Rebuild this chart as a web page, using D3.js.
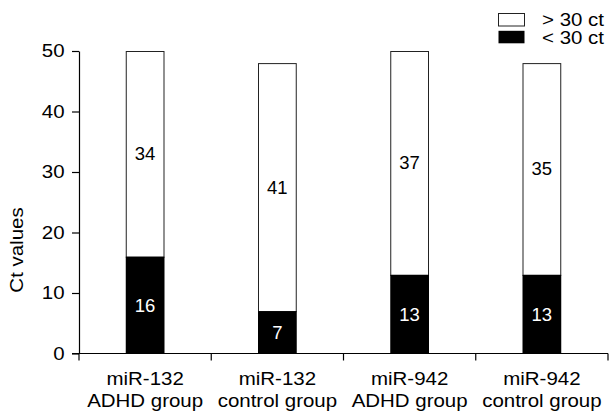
<!DOCTYPE html>
<html>
<head>
<meta charset="utf-8">
<script src="https://cdn.jsdelivr.net/npm/d3@7"></script>
<style>
  html, body { margin: 0; padding: 0; background: #fff; }
  svg { display: block; font-family: Arial, "Liberation Sans", sans-serif; }
</style>
</head>
<body>
<svg id="chart" width="609" height="414"></svg>
<script>
// ---- data ----
const categoriesLine1 = ["miR-132", "miR-132", "miR-942", "miR-942"];
const categoriesLine2 = ["ADHD group", "control group", "ADHD group", "control group"];
const below30 = [16, 7, 13, 13];   // "< 30 ct" (black, bottom)
const above30 = [34, 41, 37, 35];  // "> 30 ct" (white, top)
const yTicks = [0, 10, 20, 30, 40, 50];
const legendLabels = ["> 30 ct", "< 30 ct"];
const yLabel = "Ct values";

// ---- layout ----
const svg = d3.select("#chart");
const x0 = 79, x1 = 608, yBottom = 353.5, yTop = 51;
const FS = 18.6, SX = 1.1;
const ids = categoriesLine1.map((d, i) => i);

const x = d3.scaleBand().domain(ids).range([x0, x1]).paddingInner(0).paddingOuter(0);
const y = d3.scaleLinear().domain([0, 50]).range([yBottom, yTop]);
const barW = x.bandwidth() * 0.293;

const data = ids.map(i => ({ i, low: below30[i], high: above30[i] }));

// stretched text helper
function stext(parent, tx, ty, str, anchor, size, sx, rot) {
  return parent.append("text")
    .attr("transform", `translate(${tx},${ty})` + (rot ? ` rotate(${rot})` : "") + ` scale(${sx},1)`)
    .attr("text-anchor", anchor)
    .attr("font-size", size)
    .attr("fill", "#000")
    .text(str);
}

// bars: white (> 30 ct) stacked on black (< 30 ct)
const g = svg.append("g");
g.selectAll("rect.high").data(data).enter().append("rect")
  .attr("class", "high")
  .attr("x", d => x(d.i) + x.bandwidth() / 2 - barW / 2 + 0.5)
  .attr("y", d => y(d.low + d.high) + 0.5)
  .attr("width", barW - 1)
  .attr("height", d => y(d.low) - y(d.low + d.high))
  .attr("fill", "#fff")
  .attr("stroke", "#222")
  .attr("stroke-width", 1);

g.selectAll("rect.low").data(data).enter().append("rect")
  .attr("class", "low")
  .attr("x", d => x(d.i) + x.bandwidth() / 2 - barW / 2)
  .attr("y", d => y(d.low))
  .attr("width", barW)
  .attr("height", d => y(0) - y(d.low))
  .attr("fill", "#000");

// value labels
g.selectAll("text.hl").data(data).enter().append("text")
  .attr("x", d => x(d.i) + x.bandwidth() / 2)
  .attr("y", d => y(d.low + d.high / 2))
  .attr("dy", "0.35em")
  .attr("text-anchor", "middle")
  .attr("font-size", 18.5)
  .attr("fill", "#000")
  .text(d => d.high);

g.selectAll("text.ll").data(data).enter().append("text")
  .attr("x", d => x(d.i) + x.bandwidth() / 2)
  .attr("y", d => y(d.low / 2))
  .attr("dy", "0.35em")
  .attr("text-anchor", "middle")
  .attr("font-size", 18.5)
  .attr("fill", "#fff")
  .text(d => d.low);

// y axis
const yAxis = d3.axisLeft(y).tickValues(yTicks).tickSize(7).tickPadding(8).tickSizeOuter(0);
const ya = svg.append("g").attr("transform", `translate(${x0},0)`).call(yAxis);
ya.select(".domain").attr("stroke", "#000").attr("stroke-width", 1.2);
ya.selectAll(".tick line").attr("stroke", "#000").attr("stroke-width", 1.2);
ya.selectAll(".tick text").attr("font-size", FS).attr("fill", "#000")
  .attr("font-family", "Arial, 'Liberation Sans', sans-serif")
  .attr("x", -14.5 / SX)
  .attr("transform", `scale(${SX},1)`);

// x axis with ticks at band boundaries
const xa = svg.append("g");
xa.append("line").attr("x1", x0 - 7).attr("x2", x1).attr("y1", yBottom).attr("y2", yBottom)
  .attr("stroke", "#000").attr("stroke-width", 1.2);
const bounds = ids.map(i => x(i)).concat([x1]);
xa.selectAll("line.tk").data(bounds).enter().append("line")
  .attr("x1", d => d).attr("x2", d => d)
  .attr("y1", yBottom).attr("y2", yBottom + 7)
  .attr("stroke", "#000").attr("stroke-width", 1.2);

ids.forEach(i => {
  const cx = x(i) + x.bandwidth() / 2;
  stext(xa, cx, 384.5, categoriesLine1[i], "middle", FS, SX);
  stext(xa, cx, 407, categoriesLine2[i], "middle", FS, SX);
});

// y label
stext(svg, 23, 250, yLabel, "middle", FS, SX, -90);

// legend
const leg = svg.append("g");
const legFill = ["#fff", "#000"];
legendLabels.forEach((lab, k) => {
  const ly = 13 + k * 17.3;
  leg.append("rect")
    .attr("x", 498.5).attr("y", ly + 0.5)
    .attr("width", 26).attr("height", 12.5)
    .attr("fill", legFill[k]).attr("stroke", k === 0 ? "#222" : "none").attr("stroke-width", 1);
  stext(leg, 542, ly + 13.2, lab, "start", FS, SX);
});
</script>
</body>
</html>
